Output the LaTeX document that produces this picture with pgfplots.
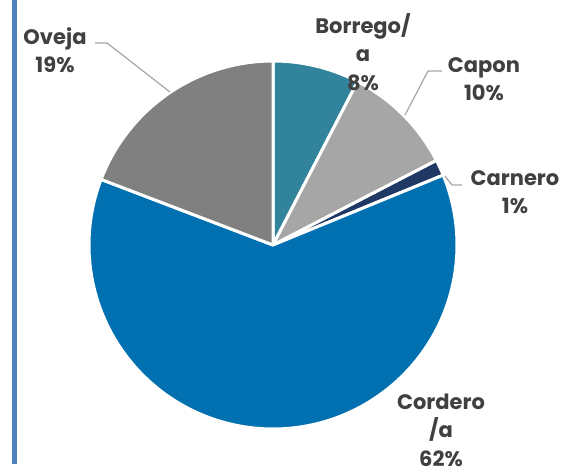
\documentclass[border=0pt]{standalone}
\usepackage{pgfplots}
\pgfplotsset{compat=1.18}
\usepackage{fontspec}
\setmainfont{Poppins}
\definecolor{cBorrego}{HTML}{31849B}
\definecolor{cCapon}{HTML}{A6A6A6}
\definecolor{cCarnero}{HTML}{1F3864}
\definecolor{cCordero}{HTML}{0070B0}
\definecolor{cOveja}{HTML}{808080}
\definecolor{labelgray}{HTML}{404040}
\definecolor{leadergray}{HTML}{A6A6A6}
\definecolor{barblue}{HTML}{4F81BD}
% shares in percent
\def\pBorrego{7.6}
\def\pCapon{9.8}
\def\pCarnero{1.4}
\def\pCordero{62.0}
\def\pOveja{19.2}
\pgfmathsetmacro{\aA}{0}
\pgfmathsetmacro{\aB}{\aA+3.6*\pBorrego}
\pgfmathsetmacro{\aC}{\aB+3.6*\pCapon}
\pgfmathsetmacro{\aD}{\aC+3.6*\pCarnero}
\pgfmathsetmacro{\aE}{\aD+3.6*\pCordero}
\pgfmathsetmacro{\aF}{\aE+3.6*\pOveja}
\def\cx{273}
\def\cy{245}
\def\R{184}
\begin{document}
\begin{tikzpicture}
\begin{axis}[
  name=ax,
  width=563pt, height=473pt, scale only axis,
  xmin=0, xmax=563, ymin=0, ymax=473, y dir=reverse,
  hide axis, clip=false,
  every axis plot/.append style={line join=round},
]
\addplot[fill=cBorrego, draw=white, line width=3pt, domain=\aA:\aB, samples=40, variable=\t]
  ({\cx+\R*sin(\t)}, {\cy-\R*cos(\t)}) -- (axis cs:\cx,\cy) -- cycle;
\addplot[fill=cCapon, draw=white, line width=3pt, domain=\aB:\aC, samples=40, variable=\t]
  ({\cx+\R*sin(\t)}, {\cy-\R*cos(\t)}) -- (axis cs:\cx,\cy) -- cycle;
\addplot[fill=cCarnero, draw=white, line width=3pt, domain=\aC:\aD, samples=10, variable=\t]
  ({\cx+\R*sin(\t)}, {\cy-\R*cos(\t)}) -- (axis cs:\cx,\cy) -- cycle;
\addplot[fill=cCordero, draw=white, line width=3pt, domain=\aD:\aE, samples=150, variable=\t]
  ({\cx+\R*sin(\t)}, {\cy-\R*cos(\t)}) -- (axis cs:\cx,\cy) -- cycle;
\addplot[fill=cOveja, draw=white, line width=3pt, domain=\aE:\aF, samples=50, variable=\t]
  ({\cx+\R*sin(\t)}, {\cy-\R*cos(\t)}) -- (axis cs:\cx,\cy) -- cycle;
% left decorative bar
\addplot[fill=barblue, draw=none] coordinates {(12,0) (17,0) (17,464) (12,464)} -- cycle;
% leader lines
\addplot[leadergray, line width=1.2pt] coordinates {(95,43) (107,43) (170,92)};
\addplot[leadergray, line width=1.2pt] coordinates {(442,71) (428,71) (405,115)};
\addplot[leadergray, line width=1.2pt] coordinates {(462,185) (452,185) (445,176)};
% labels
\tikzset{lbl/.style={align=center, text=labelgray, font=\fontsize{21}{28.5}\selectfont\bfseries, inner sep=0pt}}
\node[lbl] at (axis cs:55,50) {Oveja\\19\%};
\node[lbl] at (axis cs:363,52) {Borrego/\\a\\8\%};
\node[lbl] at (axis cs:484,79) {Capon\\10\%};
\node[lbl] at (axis cs:515,192) {Carnero\\1\%};
\node[lbl] at (axis cs:441,430) {Cordero\\/a\\62\%};
\end{axis}
\pgfresetboundingbox
\path[use as bounding box] (ax.south west) rectangle (ax.north east);
\end{tikzpicture}
\end{document}
